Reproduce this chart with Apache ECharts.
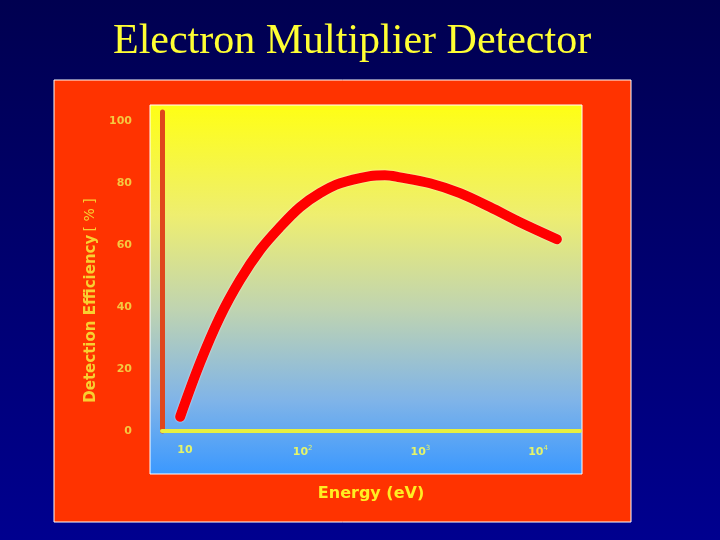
<!DOCTYPE html>
<html>
<head>
<meta charset="utf-8">
<script src="https://cdn.jsdelivr.net/npm/echarts@6/dist/echarts.min.js"></script>
<style>
  html, body { margin: 0; padding: 0; background: #000060; }
  #main { width: 720px; height: 540px; }
</style>
</head>
<body>
<div id="main"></div>
<script>
// 读图得到的数据: 能量 (eV) 与探测效率 (%)
var energy = [9.1, 13.4, 19.8, 29.3, 43.4, 64, 95, 140, 208, 373, 500, 671, 1208, 2170, 3900, 7010, 14450];
var efficiency = [4.6, 21.9, 36.8, 48.7, 58.4, 65.8, 72.3, 76.8, 80, 82.3, 82.6, 81.9, 80, 76.8, 72.3, 67.4, 61.9];
var yTicks = [0, 20, 40, 60, 80, 100];
var xTicks = [10, 100, 1000, 10000];

var myChart = echarts.init(document.getElementById('main'));

var points = energy.map(function (e, i) { return [e, efficiency[i]]; });

option = {
    animation: false,
    title: {
        text: 'Electron Multiplier Detector',
        left: 108,
        top: 16,
        textStyle: {
            fontFamily: 'Liberation Serif',
            fontWeight: 'normal',
            fontSize: 42,
            color: '#ffff33',
            textShadowColor: 'rgba(0,0,0,0.6)',
            textShadowOffsetX: 2,
            textShadowOffsetY: 2
        }
    },
    graphic: [
        {
            // 深蓝背景
            type: 'rect', z: -30, silent: true,
            shape: { x: 0, y: 0, width: 720, height: 540 },
            style: {
                fill: new echarts.graphic.LinearGradient(0, 0, 0, 1, [
                    { offset: 0, color: '#000050' },
                    { offset: 1, color: '#00008f' }
                ])
            }
        },
        {
            // 红色面板
            type: 'rect', z: -20, silent: true,
            shape: { x: 54, y: 80, width: 577, height: 442 },
            style: { fill: '#ff3300', stroke: '#ffffff', lineWidth: 1 }
        },
        {
            // 黄-蓝渐变绘图区
            type: 'rect', z: -10, silent: true,
            shape: { x: 150, y: 105, width: 432, height: 369 },
            style: {
                fill: new echarts.graphic.LinearGradient(0, 0, 0, 1, [
                    { offset: 0, color: '#ffff14' },
                    { offset: 0.3, color: '#eeee70' },
                    { offset: 0.55, color: '#c0d4b0' },
                    { offset: 0.8, color: '#80b4e8' },
                    { offset: 1, color: '#3a98ff' }
                ]),
                stroke: '#ffffff',
                lineWidth: 1
            }
        }
    ],
    grid: {
        left: 162,
        right: 140,
        top: 112,
        bottom: 109,
        containLabel: false
    },
    xAxis: {
        type: 'log',
        logBase: 10,
        min: 6.38,
        max: 22700,
        name: '{b|Energy (eV)}',
        nameLocation: 'middle',
        nameGap: 55,
        nameTextStyle: {
            rich: {
                b: { fontFamily: 'DejaVu Sans', fontWeight: 'bold', fontSize: 16, color: '#ffee22',
                     textShadowColor: 'rgba(120,40,0,0.7)', textShadowOffsetX: 1, textShadowOffsetY: 1 }
            }
        },
        axisLine: { show: true, lineStyle: { color: '#e8f040', width: 4 } },
        axisTick: { show: false },
        splitLine: { show: false },
        axisLabel: {
            margin: 14,
            showMinLabel: false,
            showMaxLabel: false,
            formatter: function (v) {
                var e = Math.round(Math.log10(v));
                if (xTicks.indexOf(Math.pow(10, e)) < 0 || Math.abs(Math.log10(v) - e) > 1e-6) return '';
                return e === 1 ? '{t|10}' : '{t|10}{s|' + e + '}';
            },
            rich: {
                t: { fontFamily: 'DejaVu Sans', fontWeight: 'bold', fontSize: 11, color: '#e4f46a',
                     textShadowColor: 'rgba(0,0,80,0.5)', textShadowOffsetX: 1, textShadowOffsetY: 1 },
                s: { fontFamily: 'DejaVu Sans', fontSize: 7, color: '#e4f46a', verticalAlign: 'top', padding: [0, 0, 8, 0] }
            }
        }
    },
    yAxis: {
        type: 'value',
        min: 0,
        max: 103,
        interval: 20,
        name: '{b|Detection Efficiency} {n|[ % ]}',
        nameLocation: 'middle',
        nameGap: 62,
        nameTextStyle: {
            padding: [0, 58, 0, 0],
            rich: {
                b: { fontFamily: 'DejaVu Sans', fontWeight: 'bold', fontSize: 15, color: '#f8d030',
                     textShadowColor: 'rgba(120,40,0,0.6)', textShadowOffsetX: 1, textShadowOffsetY: 1 },
                n: { fontFamily: 'DejaVu Sans', fontWeight: 'normal', fontSize: 14, color: '#f8d030' }
            }
        },
        axisLine: { show: true, lineStyle: { color: '#e0461c', width: 5 } },
        axisTick: { show: false },
        splitLine: { show: false },
        axisLabel: {
            margin: 30,
            fontFamily: 'DejaVu Sans',
            fontWeight: 'bold',
            fontSize: 11,
            color: '#f5c840',
            formatter: function (v) {
                return yTicks.indexOf(v) >= 0 ? String(v) : '';
            }
        }
    },
    series: [{
        type: 'line',
        name: 'efficiency',
        data: points,
        smooth: 0.35,
        symbol: 'none',
        lineStyle: {
            color: '#ff0000',
            width: 10,
            cap: 'round',
            join: 'round',
            shadowColor: 'rgba(255,255,255,0.8)',
            shadowBlur: 2
        },
        z: 3
    }]
};

myChart.setOption(option, true);
window.addEventListener("resize", function () {
    myChart.resize();
});
</script>
</body>
</html>
